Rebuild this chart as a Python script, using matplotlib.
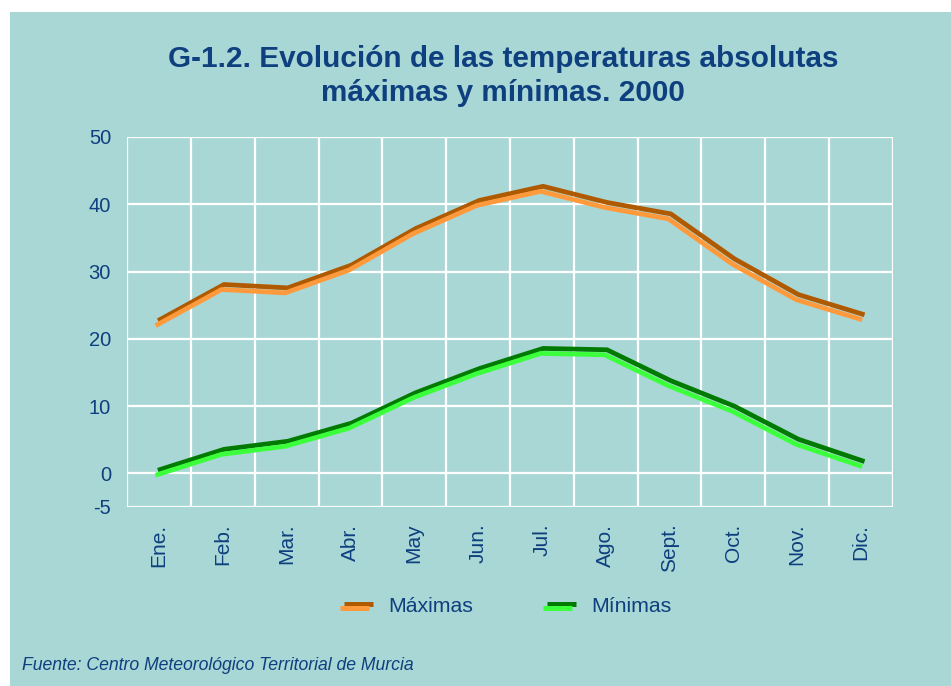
import matplotlib
matplotlib.use("Agg")
import matplotlib.pyplot as plt
import matplotlib.transforms as mtransforms
from matplotlib.lines import Line2D
from matplotlib.patches import Rectangle

months = ["Ene.", "Feb.", "Mar.", "Abr.", "May", "Jun.", "Jul.", "Ago.", "Sept.", "Oct.", "Nov.", "Dic."]
maximas = [22.5, 27.7, 27.2, 30.6, 36.0, 40.2, 42.3, 39.9, 38.2, 31.5, 26.2, 23.3]
minimas = [0.2, 3.2, 4.4, 7.1, 11.6, 15.2, 18.2, 18.0, 13.4, 9.6, 4.7, 1.5]
yticks = [-5, 0, 10, 20, 30, 40, 50]

title = "G-1.2. Evolución de las temperaturas absolutas\nmáximas y mínimas. 2000"
source = "Fuente: Centro Meteorológico Territorial de Murcia"

BG = "#A9D7D5"
TXT = "#0E3F7E"
MAX_DARK, MAX_LIGHT = "#B05A00", "#FF9A3C"
MIN_DARK, MIN_LIGHT = "#007A00", "#3CFF3C"

plt.rcParams["font.family"] = ["Liberation Sans", "DejaVu Sans"]

W, H = 951, 686
fig = plt.figure(figsize=(W / 100, H / 100), dpi=100)
fig.patch.set_facecolor("white")
fig.patches.append(Rectangle((10 / W, 0), 1 - 10 / W, 1 - 12 / H, transform=fig.transFigure,
                             facecolor=BG, edgecolor="none", zorder=-10))

ax = fig.add_axes([127 / W, 1 - 507 / H, (893 - 127) / W, (507 - 137) / H])
ax.set_facecolor(BG)
x = list(range(len(months)))
ax.set_xlim(-0.5, len(months) - 0.5)
ax.set_ylim(-5, 50)

# grid
for yv in yticks:
    ax.axhline(yv, color="white", lw=1.6, zorder=1)
for i in range(len(months) + 1):
    ax.axvline(i - 0.5, color="white", lw=1.6, zorder=1)
for s in ax.spines.values():
    s.set_visible(False)

dark_tr = mtransforms.offset_copy(ax.transData, fig=fig, x=1.2, y=2.5, units="dots")
light_tr = mtransforms.offset_copy(ax.transData, fig=fig, x=-1.2, y=-2.5, units="dots")

for vals, dk, lt in [(maximas, MAX_DARK, MAX_LIGHT), (minimas, MIN_DARK, MIN_LIGHT)]:
    ax.plot(x, vals, color=dk, lw=3.4, transform=dark_tr, zorder=3, solid_joinstyle="miter", clip_on=False)
    ax.plot(x, vals, color=lt, lw=3.4, transform=light_tr, zorder=4, solid_joinstyle="miter", clip_on=False)

ax.set_yticks(yticks)
ax.set_yticklabels([str(v) for v in yticks], fontsize=14.5, color=TXT)
ax.set_xticks(x)
ax.set_xticklabels(months, rotation=90, fontsize=15, color=TXT, va="top", ha="center")
ax.tick_params(axis="y", length=0, pad=11.5)
ax.tick_params(axis="x", length=0, pad=12)

fig.text(503 / W, 1 - 76 / H, title, ha="center", va="center", fontsize=21.4, fontweight="bold",
         color=TXT, linespacing=1.28)

# legend
ly = 1 - 606 / H
for (x0, label, dk, lt) in [(340, "Máximas", MAX_DARK, MAX_LIGHT), (543, "Mínimas", MIN_DARK, MIN_LIGHT)]:
    fig.lines.append(Line2D([(x0 + 4) / W, (x0 + 33) / W], [ly + 2.5 / H, ly + 2.5 / H], color=dk, lw=3.6,
                            transform=fig.transFigure, solid_capstyle="butt"))
    fig.lines.append(Line2D([x0 / W, (x0 + 29) / W], [ly - 2.0 / H, ly - 2.0 / H], color=lt, lw=3.6,
                            transform=fig.transFigure, solid_capstyle="butt"))
    fig.text((x0 + 48) / W, ly, label, ha="left", va="center", fontsize=15.3, color=TXT)

fig.text(22 / W, 1 - 665 / H, source, ha="left", va="center", fontsize=12.7, style="italic", color=TXT)

fig.savefig("out.png", dpi=100, facecolor=fig.get_facecolor())
